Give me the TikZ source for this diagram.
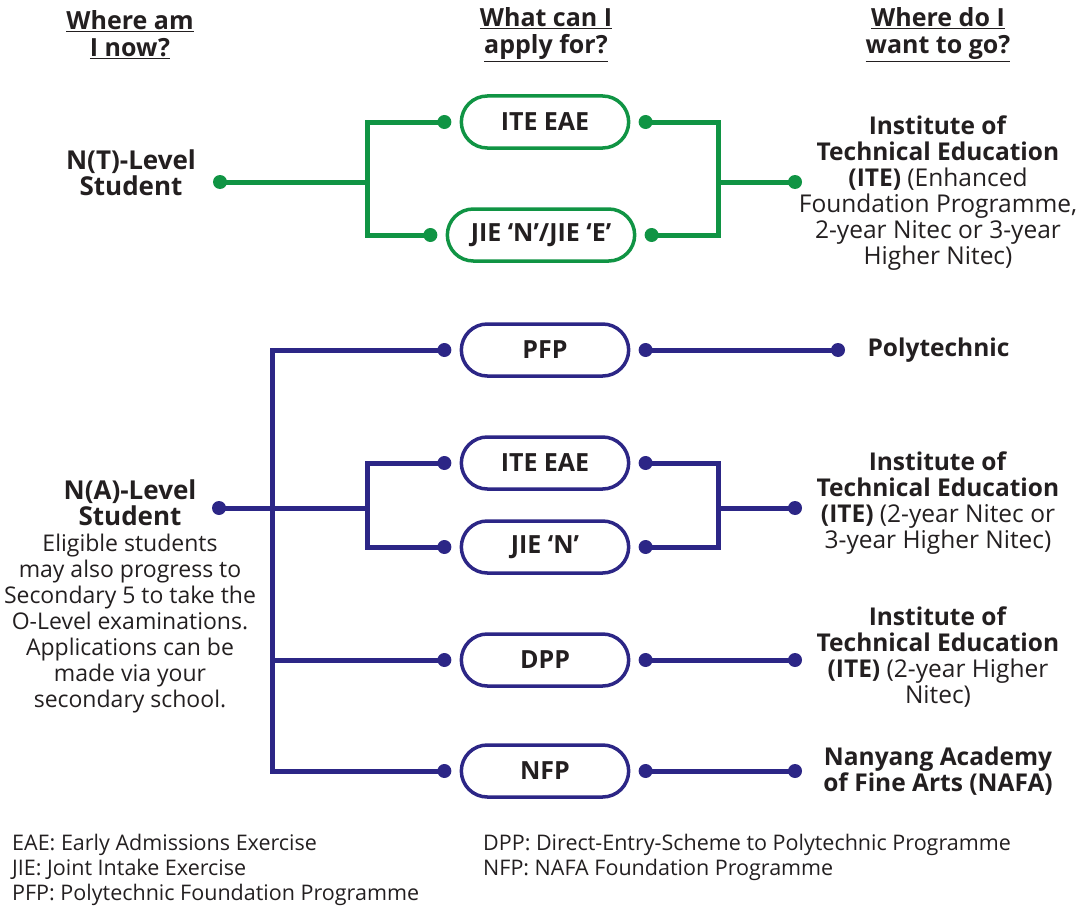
\documentclass[tikz,border=0pt]{standalone}
\usepackage{fontspec}
\setmainfont{Open Sans}
\usetikzlibrary{positioning,shapes.misc}
\definecolor{ntgreen}{RGB}{16,148,68}
\definecolor{nablue}{RGB}{44,38,134}
\definecolor{ink}{RGB}{35,31,32}
\newcommand{\lvl}[1]{\textbf{\fontsize{26}{26}\selectfont #1}}
\tikzset{
  pill/.style={rounded rectangle, draw, line width=3.5pt, minimum width=174pt, minimum height=52pt, text=ink, font=\bfseries\fontsize{25}{26}\selectfont},
  dot/.style={circle, fill, inner sep=0pt, minimum size=14pt},
  wire/.style={line width=5pt},
  head/.style={align=center, text=ink, font=\bfseries\fontsize{25}{27}\selectfont},
  dest/.style={align=center, text=ink, font=\fontsize{24.5}{26}\selectfont},
  note/.style={align=left, anchor=north west, inner sep=0pt, text=ink, font=\fontsize{21.5}{25}\selectfont}
}

\begin{document}
\begin{tikzpicture}[x=1pt, y=-1pt]
\useasboundingbox (0,0) rectangle (1088,907);

% column heads
\node [head] (h1) at (130,35) {\underline{Where am}\\\underline{I now?}};
\node [head] (h2) at (546,35) {\underline{What can I}\\\underline{apply for?}};
\node [head] (h3) at (938,35) {\underline{Where do I}\\\underline{want to go?}};

% N(T) level
\node [dest] (nt) at (131,173) {\lvl{N(T)-Level}\\\lvl{Student}};
\node [dot, ntgreen] (ntdot) at (220,182) {};
\node [pill, draw=ntgreen] (gite) at (545,122) {ITE EAE};
\node [pill, draw=ntgreen, minimum width=194pt] (gjie) at (541,235) {JIE ‘N’/JIE ‘E’};
\node [dot, ntgreen, left=8pt of gite] (gitein) {};
\node [dot, ntgreen, right=8pt of gite] (giteout) {};
\node [dot, ntgreen, left=8pt of gjie] (gjiein) {};
\node [dot, ntgreen, right=8pt of gjie] (gjieout) {};
\node [dot, ntgreen] (gend) at (795,182) {};
\node [dest] (ite1) at (938,193) {\textbf{Institute of}\\\textbf{Technical Education}\\\textbf{(ITE)} (Enhanced\\Foundation Programme,\\2-year Nitec or 3-year\\Higher Nitec)};
\coordinate (gl) at (367,182);
\coordinate (gr) at (718,182);
\draw [wire, ntgreen] (ntdot.center) -- (gl);
\draw [wire, ntgreen] (gitein.center) -| (gl) |- (gjiein.center);
\draw [wire, ntgreen] (giteout.center) -| (gr) |- (gjieout.center);
\draw [wire, ntgreen] (gr) -- (gend.center);

% N(A) level
\node [dest, font=\fontsize{23}{26}\selectfont] (na) at (130,596) {\lvl{N(A)-Level}\\\lvl{Student}\\Eligible students\\may also progress to\\Secondary 5 to take the\\O-Level examinations.\\Applications can be\\made via your\\secondary school.};
\node [dot, nablue] (nadot) at (219,508) {};
\node [pill, draw=nablue] (pfp) at (545,350) {PFP};
\node [pill, draw=nablue] (bite) at (545,463) {ITE EAE};
\node [pill, draw=nablue] (bjie) at (545,547) {JIE ‘N’};
\node [pill, draw=nablue] (dpp) at (545,660) {DPP};
\node [pill, draw=nablue] (nfp) at (545,771) {NFP};
\foreach \b in {pfp,bite,bjie,dpp,nfp} {
  \node [dot, nablue, left=8pt of \b] (\b in) {};
  \node [dot, nablue, right=8pt of \b] (\b out) {};
}
\node [dot, nablue] (pend) at (838,350) {};
\node [dot, nablue] (iend) at (795,508) {};
\node [dot, nablue] (dend) at (795,660) {};
\node [dot, nablue] (nend) at (795,771) {};
\node [dest, anchor=west] (poly) at (864,350) {\textbf{Polytechnic}};
\node [dest] (ite2) at (938,503) {\textbf{Institute of}\\\textbf{Technical Education}\\\textbf{(ITE)} (2-year Nitec or\\3-year Higher Nitec)};
\node [dest] (ite3) at (938,657) {\textbf{Institute of}\\\textbf{Technical Education}\\\textbf{(ITE)} (2-year Higher\\Nitec)};
\node [dest] (nafa) at (938,771) {\textbf{Nanyang Academy}\\\textbf{of Fine Arts (NAFA)}};
\coordinate (trunk) at (272,771);
\coordinate (bl) at (367,508);
\coordinate (br) at (718,508);
\draw [wire, nablue] (pfpin.center) -| (trunk) -- (nfpin.center);
\draw [wire, nablue] (trunk |- dppin) -- (dppin.center);
\draw [wire, nablue] (nadot.center) -- (bl);
\draw [wire, nablue] (bitein.center) -| (bl) |- (bjiein.center);
\draw [wire, nablue] (biteout.center) -| (br) |- (bjieout.center);
\draw [wire, nablue] (br) -- (iend.center);
\draw [wire, nablue] (pfpout.center) -- (pend.center);
\draw [wire, nablue] (dppout.center) -- (dend.center);
\draw [wire, nablue] (nfpout.center) -- (nend.center);

% key
\node [note] (key1) at (12,834) {EAE: Early Admissions Exercise\\JIE: Joint Intake Exercise\\PFP: Polytechnic Foundation Programme};
\node [note] (key2) at (483,834) {DPP: Direct-Entry-Scheme to Polytechnic Programme\\NFP: NAFA Foundation Programme};
\end{tikzpicture}
\end{document}
